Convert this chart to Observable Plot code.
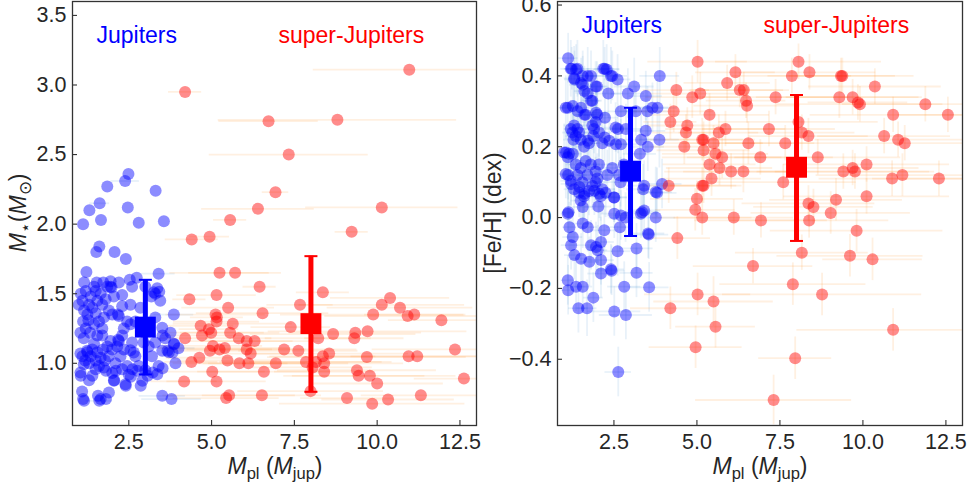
<!DOCTYPE html>
<html><head><meta charset="utf-8">
<script src="https://cdn.jsdelivr.net/npm/d3@7"></script>
<script src="https://cdn.jsdelivr.net/npm/@observablehq/plot@0.6"></script>
<style>
body{margin:0;background:#fff;font-family:"Liberation Sans",Arial,sans-serif;}
#wrap{display:flex;width:969px;height:483px;overflow:hidden;}
.panel{position:relative;height:483px;}
.lab{position:absolute;font-size:23px;line-height:16px;color:#262626;white-space:nowrap;}
.rot{transform:translate(-50%,-50%) rotate(-90deg);}
.hx{transform:translateX(-50%);}
.lab sub{font-size:0.72em;vertical-align:baseline;position:relative;top:0.3em;}
</style></head>
<body>
<div id="wrap">
  <div class="panel" id="left">
    <div class="lab rot" style="left:19px;top:213px;"><i>M</i><sub>⋆</sub>(<i>M</i><sub>⊙</sub>)</div>
    <div class="lab hx" style="left:275px;top:458px;"><i>M</i><sub>pl</sub> (<i>M</i><sub>jup</sub>)</div>
  </div>
  <div class="panel" id="right">
    <div class="lab rot" style="left:9px;top:213px;">[Fe/H] (dex)</div>
    <div class="lab hx" style="left:276px;top:458px;"><i>M</i><sub>pl</sub> (<i>M</i><sub>jup</sub>)</div>
  </div>
</div>
<script>
// ---------- data ----------
const xTicks = [2.5, 5.0, 7.5, 10.0, 12.5];
const mstarTicks = [1.0, 1.5, 2.0, 2.5, 3.0, 3.5];
const fehTicks = [-0.4, -0.2, 0.0, 0.2, 0.4, 0.6];

const groupNames = ["Jupiters", "super-Jupiters"];
const groupColors = ["#0000ff", "#ff0000"];
const meanMpl = [3, 8];
const meanMstar = [1.26, 1.285];
const mstarLow = [0.92, 0.795];
const mstarHigh = [1.60, 1.77];
const meanFeH = [0.131, 0.142];
const fehLow = [-0.052, -0.066];
const fehHigh = [0.31, 0.346];

// Jupiters: [Mpl, Mstar, Mpl error]
const jupMstar = [
[2.49,2.36],[2.39,2.31,0.43],[1.85,2.27],[3.31,2.24],[1.62,2.15,0.3],[1.31,2.10],[2.47,2.12],[1.66,2.03],[1.12,2.00],[2.80,2.01],[3.56,2.02],
[1.61,1.84],[1.52,1.80],[2.07,1.80],[2.41,1.75],
[1.22,1.656],[3.40,1.644,0.5],[2.74,1.615],[2.53,1.60],[1.15,1.58],[1.53,1.58],[1.73,1.58],[1.95,1.59],[2.20,1.58],[1.95,1.55],[1.98,1.545],[1.50,1.52],[2.30,1.49],[3.36,1.54],[3.26,1.51],[3.18,1.48],[3.42,1.515],[3.30,1.50],
[0.99,1.42],[1.05,1.50],[1.10,1.45],[1.15,1.38],[1.20,1.52],[1.25,1.35],[1.30,1.42],[1.35,1.48],[1.40,1.40],[1.45,1.55],[1.50,1.36],[1.55,1.45],[1.60,1.30],[1.65,1.50],[1.70,1.42],[1.80,1.46],[1.85,1.55],[1.90,1.38],[2.00,1.35],[2.05,1.48],[2.17,1.35],[2.20,1.34],[2.30,1.41],[2.55,1.42],[1.12,1.30],[1.20,1.25],[1.28,1.31],[1.33,1.22],[1.45,1.28],[1.55,1.20],[1.70,1.25],[1.75,1.33],
[1.04,1.22],[1.14,1.18],[2.55,1.28],[3.86,1.35,0.6],[3.51,1.256],[3.76,1.22],[3.52,1.20],
[1.95,1.16],[2.20,1.16],[2.18,1.17],[2.30,1.20],[1.70,1.20],[1.45,1.14],[1.24,1.09],[1.04,1.07],[2.55,1.094],[2.65,1.077],[3.51,1.09],[3.71,1.08],[3.86,1.14],[3.91,1.00],[1.14,0.994],[1.75,0.97],[2.00,0.93],[2.30,0.958],[2.50,0.917],[2.76,0.946],[2.91,0.874],[3.36,0.922],[1.40,0.91],[1.04,0.933],[2.05,0.874],[2.40,0.85],[2.86,0.838],
[1.10,1.05],[1.18,1.02],[1.25,1.08],[1.30,1.00],[1.35,1.05],[1.40,1.10],[1.50,1.02],[1.55,1.08],[1.60,0.98],[1.65,1.04],[1.72,1.10],[1.78,1.02],[1.85,1.12],[1.90,1.05],[2.00,1.10],[2.10,1.00],[2.15,1.12],[2.25,1.05],[2.35,1.10],[2.45,0.98],[2.60,1.15],[2.70,1.05],[2.80,0.98],[3.00,0.95],[3.10,1.12],[3.20,1.05],[3.30,1.15],[3.40,0.98],[3.60,1.18],[3.67,1.09],[3.82,1.077],[4.00,1.108,0.5],[3.87,1.137],[3.22,0.933],[3.07,0.91],[2.41,0.838],[3.52,0.965],[2.56,0.903],[2.61,0.958],[2.11,0.946],[1.81,0.946],[1.50,0.958],[1.30,0.879],[2.06,0.879],[1.05,0.91],
[1.09,0.797],[1.12,0.743],[1.57,0.766],[1.65,0.743],[1.90,0.79],[3.51,0.766,0.7],[3.79,0.743,0.9],[1.15,0.73],[1.61,0.73,0.4],[1.81,0.743],
[2.70,1.30],[2.90,1.25],[3.30,1.33],[3.45,1.45],[2.45,1.30],[2.85,1.40],[2.60,1.55],[3.00,1.55],[2.35,1.25],[2.95,1.15]
];

// super-Jupiters: [Mpl, Mstar, Mpl error]
const supMstar = [
[4.20,2.95,0.5],[10.97,3.11,2.9],[6.72,2.74,1.5],[8.80,2.75,3.6],[7.33,2.50,2.4],[6.93,2.23,0.4],[6.40,2.11,1.7],[10.14,2.12,2.3],[5.56,2.03,0.5],[4.40,1.89,0.8],[4.94,1.91,0.6],[9.23,1.945,0.5],[5.24,1.65,1.5],[5.71,1.65,1.4],[6.45,1.55,0.5],[8.36,1.51,0.8],[4.33,1.46,0.5],[5.15,1.49,1.2],[10.39,1.47,1.8],[10.14,1.42,2.5],[7.67,1.42,1.0],[5.50,1.40,1.4],[10.69,1.40,2.2],[5.12,1.35,1.5],[5.16,1.33,0.8],[6.54,1.36,2.0],[9.88,1.35,2.8],[11.12,1.35,1.5],[10.92,1.34,2.5],[11.94,1.31,1.6],[5.15,1.30,1.3],[4.67,1.27,1.0],[5.64,1.285,1.8],[7.39,1.26,1.2],[4.92,1.245,0.9],[4.20,1.18,0.8],[4.71,1.20,1.2],[4.99,1.22,1.6],[5.56,1.22,1.5],[5.82,1.18,1.0],[6.06,1.16,1.4],[6.30,1.16,2.0],[8.67,1.21,2.5],[9.34,1.22,2.0],[9.31,1.18,1.5],[9.71,1.23,3.0],[8.22,1.18,1.6],[5.04,1.125,1.5],[5.40,1.11,2.0],[4.95,1.09,1.2],[5.24,1.10,1.6],[6.06,1.10,1.8],[6.18,1.07,1.3],[7.19,1.10,2.2],[7.62,1.09,1.8],[8.55,1.07,2.4],[8.36,1.05,1.6],[4.63,1.04,1.0],[4.39,1.01,0.8],[5.48,1.02,1.5],[5.84,1.00,2.0],[6.11,1.00,1.2],[6.94,1.00,2.2],[7.85,1.01,2.6],[8.15,1.01,2.0],[8.05,0.97,1.8],[8.40,1.00,2.4],[8.40,0.94,1.5],[9.69,1.045,3.0],[10.95,1.05,2.6],[11.21,1.05,2.0],[12.35,1.10,2.5],[12.62,0.89,1.5],[5.02,0.94,1.6],[6.58,0.94,2.0],[9.39,0.95,2.4],[9.44,0.91,2.0],[9.78,0.91,2.6],[10.0,0.855,2.0],[4.17,0.87,1.0],[5.15,0.87,1.5],[5.44,0.75,1.6],[5.53,0.77,2.0],[6.52,0.77,1.8],[7.99,0.80,2.2],[9.09,0.75,1.4],[9.85,0.71,2.8],[10.33,0.74,2.0],[11.32,0.77,1.8]
];

// Jupiters: [Mpl, [Fe/H], Mpl error, [Fe/H] error]
const jupFeh = [
[1.12,0.45,0.3,0.07],[1.20,0.42,0.3,0.08],[1.23,0.42,0.2,0.06],[1.40,0.42,0.4,0.08],[1.36,0.418,0.3,0.07],[1.30,0.393,0.3,0.09],[1.56,0.40,0.4,0.07],[1.71,0.40,0.3,0.08],[1.81,0.40,0.4,0.07],[2.18,0.42,0.5,0.08],[2.28,0.418,0.4,0.07],[2.22,0.42,0.3,0.06],[2.41,0.40,0.5,0.08],[2.61,0.39,0.4,0.07],[2.45,0.40,0.3,0.07],
[1.31,0.39,0.3,0.08],[1.51,0.38,0.3,0.07],[1.56,0.375,0.4,0.08],[1.95,0.37,0.4,0.07],[1.99,0.37,0.3,0.07],[3.11,0.37,0.6,0.08],[2.33,0.35,0.4,0.07],[2.92,0.35,0.5,0.07],[3.88,0.40,0.6,0.08],[1.61,0.357,0.3,0.07],[1.71,0.35,0.3,0.07],[1.81,0.33,0.3,0.07],[3.46,0.343,0.5,0.07],
[1.11,0.31,0.2,0.08],[1.26,0.315,0.3,0.07],[1.41,0.30,0.3,0.07],[1.51,0.31,0.3,0.07],[1.05,0.31,0.2,0.09],[1.61,0.29,0.3,0.07],[1.96,0.296,0.4,0.07],[2.71,0.30,0.5,0.08],[3.16,0.30,0.5,0.07],[3.51,0.30,0.6,0.07],[3.66,0.31,0.5,0.07],[3.81,0.31,0.6,0.08],[1.65,0.29,0.3,0.06],[2.00,0.29,0.4,0.07],[2.23,0.282,0.4,0.07],[1.85,0.33,0.3,0.07],
[1.20,0.25,0.2,0.08],[1.25,0.24,0.3,0.07],[1.30,0.26,0.3,0.07],[1.35,0.23,0.3,0.08],[1.40,0.25,0.3,0.07],[1.45,0.24,0.3,0.07],[1.28,0.22,0.3,0.07],[1.50,0.22,0.3,0.08],
[1.85,0.26,0.3,0.07],[1.90,0.25,0.3,0.07],[1.95,0.27,0.4,0.07],[1.88,0.23,0.3,0.07],[2.05,0.24,0.4,0.07],[2.15,0.21,0.4,0.07],[1.75,0.21,0.3,0.07],
[2.55,0.254,0.4,0.07],[2.62,0.25,0.4,0.07],[2.86,0.25,0.5,0.07],[3.46,0.245,0.6,0.07],[3.87,0.22,0.6,0.08],[3.32,0.22,0.5,0.07],[3.52,0.20,0.5,0.07],[2.22,0.226,0.4,0.07],[2.36,0.217,0.4,0.07],[2.56,0.207,0.4,0.07],[2.71,0.207,0.5,0.07],[1.71,0.217,0.3,0.07],[1.60,0.20,0.3,0.07],[3.28,0.18,0.5,0.07],
[1.00,0.184,0.2,0.08],[1.06,0.184,0.2,0.07],[1.15,0.18,0.2,0.07],[1.26,0.18,0.3,0.07],[1.11,0.17,0.2,0.07],
[1.35,0.15,0.3,0.07],[1.50,0.14,0.3,0.07],[1.65,0.16,0.3,0.07],[1.80,0.15,0.3,0.07],[1.95,0.13,0.4,0.07],[2.05,0.15,0.4,0.07],[1.40,0.12,0.3,0.07],[1.55,0.10,0.3,0.07],[1.70,0.12,0.3,0.07],[1.85,0.09,0.3,0.07],[2.00,0.11,0.4,0.07],[2.15,0.08,0.4,0.07],[2.30,0.12,0.4,0.07],[2.45,0.14,0.4,0.07],[1.05,0.123,0.2,0.07],[1.12,0.12,0.2,0.07],[1.20,0.104,0.3,0.07],[1.95,0.10,0.3,0.07],[2.25,0.07,0.4,0.07],[2.50,0.057,0.4,0.07],[2.70,0.10,0.5,0.07],[3.38,0.08,0.5,0.07],[3.80,0.07,0.6,0.07],[3.95,0.095,0.6,0.07],[1.30,0.08,0.3,0.07],[1.45,0.07,0.3,0.07],[1.60,0.06,0.3,0.07],[1.75,0.075,0.3,0.07],[2.10,0.06,0.4,0.07],[2.80,0.15,0.5,0.07],[2.65,0.12,0.4,0.07],
[1.21,0.095,0.3,0.07],[1.46,0.086,0.3,0.07],[1.61,0.067,0.3,0.07],[1.91,0.076,0.3,0.07],[2.06,0.067,0.4,0.07],[2.51,0.057,0.4,0.07],[3.41,0.09,0.5,0.07],[3.76,0.072,0.5,0.07],
[3.35,0.015,0.5,0.07],[3.76,0.0,0.6,0.07],[3.55,-0.048,0.6,0.07],[2.85,0.0,0.5,0.07],[2.68,-0.027,0.4,0.07],[2.51,0.011,0.4,0.07],[2.71,0.006,0.4,0.07],[2.03,0.031,0.4,0.07],[1.56,0.03,0.3,0.07],[1.50,0.048,0.3,0.07],[1.11,0.011,0.2,0.08],[1.13,0.015,0.2,0.08],[1.16,-0.027,0.2,0.07],[1.26,-0.055,0.3,0.07],[1.21,-0.078,0.3,0.07],[1.31,-0.106,0.3,0.07],[1.51,-0.116,0.3,0.07],[1.76,-0.125,0.3,0.07],[2.11,-0.12,0.4,0.07],[2.01,-0.092,0.3,0.07],[1.81,-0.078,0.3,0.07],[1.96,-0.083,0.3,0.07],[2.11,-0.069,0.4,0.07],[2.21,-0.036,0.4,0.07],[1.56,-0.017,0.3,0.07],[1.71,-0.027,0.3,0.07],[3.31,0.011,0.5,0.07],[3.41,0.02,0.5,0.07],
[3.18,-0.087,0.5,0.07],[3.18,-0.156,0.5,0.07],[2.61,-0.095,0.4,0.07],[3.53,-0.045,0.5,0.07],[2.41,-0.146,0.4,0.07],[2.43,-0.15,0.4,0.07],[2.11,-0.158,0.4,0.07],
[1.11,-0.177,0.2,0.07],[1.12,-0.205,0.2,0.07],[1.36,-0.195,0.3,0.07],[1.56,-0.195,0.3,0.07],[1.88,-0.226,0.3,0.07],[1.43,-0.256,0.3,0.07],[1.69,-0.256,0.3,0.08],[2.51,-0.265,0.8,0.07],[2.86,-0.275,0.8,0.07],[2.81,-0.195,0.5,0.07],[3.56,-0.197,0.6,0.07],
[2.63,-0.436,0.4,0.07]
];

// super-Jupiters: [Mpl, [Fe/H], Mpl error, [Fe/H] error]
const supFeh = [
[5.02,0.44,1.5,0.06],[8.06,0.44,2.5,0.05],[6.16,0.41,1.2,0.05],[8.39,0.41,2.0,0.05],[7.86,0.40,1.8,0.05],[9.34,0.40,2.2,0.05],[9.38,0.40,1.6,0.05],[4.38,0.36,1.0,0.05],[5.10,0.35,1.5,0.06],[5.91,0.38,1.3,0.05],[6.29,0.36,1.5,0.05],[6.41,0.36,1.2,0.05],[4.86,0.34,1.4,0.06],[7.37,0.34,2.2,0.05],[9.29,0.34,2.5,0.06],[9.69,0.34,2.0,0.05],[9.91,0.32,2.5,0.05],[9.85,0.325,1.5,0.05],[10.36,0.37,2.0,0.05],[11.88,0.32,2.5,0.05],[12.56,0.29,1.5,0.05],[10.91,0.29,2.5,0.05],[6.51,0.316,1.6,0.05],[6.48,0.33,1.2,0.05],[4.30,0.30,1.2,0.06],[4.20,0.27,0.8,0.05],[5.38,0.29,1.8,0.06],[4.71,0.26,1.2,0.05],[4.67,0.24,1.0,0.05],[5.86,0.25,1.8,0.05],[5.66,0.24,1.2,0.05],[7.17,0.25,2.0,0.05],[8.06,0.27,2.4,0.06],[8.16,0.24,1.6,0.05],[8.36,0.23,1.8,0.05],[10.64,0.23,2.0,0.05],[11.06,0.22,2.5,0.05],[11.26,0.21,1.8,0.05],[4.62,0.20,1.0,0.05],[5.16,0.22,1.6,0.06],[5.20,0.22,1.2,0.05],[5.50,0.21,1.5,0.05],[6.55,0.21,2.0,0.06],[7.66,0.21,1.8,0.05],[5.20,0.19,1.4,0.05],[5.56,0.18,1.6,0.05],[5.76,0.17,1.8,0.06],[6.91,0.17,2.2,0.05],[8.64,0.17,2.5,0.05],[5.38,0.15,1.4,0.05],[5.68,0.14,1.6,0.05],[6.03,0.13,2.0,0.05],[6.40,0.13,1.8,0.06],[9.41,0.13,2.6,0.05],[9.69,0.14,2.0,0.05],[9.76,0.13,2.4,0.05],[10.11,0.15,2.5,0.05],[10.88,0.11,2.2,0.05],[11.19,0.12,2.6,0.06],[12.29,0.11,2.0,0.05],[5.44,0.11,1.5,0.05],[5.16,0.09,1.2,0.05],[5.20,0.09,1.0,0.05],[4.15,0.09,0.8,0.05],[7.60,0.10,2.2,0.05],[5.00,0.053,1.4,0.05],[9.19,0.05,2.0,0.06],[10.11,0.06,2.5,0.05],[8.36,0.04,2.0,0.05],[8.51,0.03,1.8,0.05],[4.95,0.022,1.2,0.06],[5.16,0.0,1.5,0.05],[6.11,0.0,1.8,0.05],[9.03,0.013,2.4,0.06],[6.93,-0.008,2.0,0.05],[8.38,-0.008,2.4,0.05],[4.41,-0.058,1.0,0.06],[9.81,-0.037,2.6,0.06],[8.16,-0.099,2.0,0.05],[9.61,-0.108,2.2,0.06],[10.29,-0.118,1.5,0.06],[6.69,-0.137,1.8,0.05],[7.89,-0.188,2.2,0.06],[5.02,-0.217,1.6,0.06],[8.77,-0.217,3.0,0.06],[5.50,-0.237,1.8,0.07],[4.20,-0.256,1.2,0.06],[5.56,-0.308,1.2,0.06],[10.91,-0.317,2.9,0.06],[4.96,-0.366,1.4,0.06],[7.96,-0.397,1.1,0.06],[7.31,-0.515,2.35,0.07]
];

// ---------- drawing ----------
const fmt = d3.format(".1f");
const capSymbol = {draw(ctx, size) { const w = Math.sqrt(size / Math.PI); ctx.moveTo(-w, 0); ctx.lineTo(w, 0); }};

function panel({jup, sup, yDomain, yTicks, mean, low, high, width, marginLeft, marginRight, labelDy}) {
  const marginTop = 1, marginBottom = 58, height = 483;
  const innerH = height - marginTop - marginBottom;
  const innerW = width - marginLeft - marginRight;
  const means = groupNames.map((g, i) => ({g, x: meanMpl[i], m: mean[i], lo: low[i], hi: high[i], c: groupColors[i]}));
  const hasX = d => d[2] != null;
  const hasY = d => d[3] != null;
  return Plot.plot({
    width, height, marginLeft, marginRight, marginTop, marginBottom,
    style: {fontFamily: "Liberation Sans, Arial, sans-serif", fontSize: "21.5px", color: "#262626", background: "white"},
    x: {domain: [0.8, 13.0], ticks: xTicks, tickFormat: fmt, tickSize: 0, tickPadding: 8, label: null},
    y: {domain: yDomain, ticks: yTicks, tickFormat: fmt, tickSize: 0, tickPadding: 6, label: null},
    marks: [
      // error bars
      Plot.ruleY(jup.filter(hasX), {y: d => d[1], x1: d => d[0] - d[2], x2: d => d[0] + d[2], stroke: "#5b9bd5", strokeOpacity: 0.14, strokeWidth: 1.8, clip: true}),
      Plot.ruleX(jup.filter(hasY), {x: d => d[0], y1: d => d[1] - d[3], y2: d => d[1] + d[3], stroke: "#5b9bd5", strokeOpacity: 0.14, strokeWidth: 1.8, clip: true}),
      Plot.ruleY(sup.filter(hasX), {y: d => d[1], x1: d => d[0] - d[2], x2: d => d[0] + d[2], stroke: "#ff9933", strokeOpacity: 0.15, strokeWidth: 1.8, clip: true}),
      Plot.ruleX(sup.filter(hasY), {x: d => d[0], y1: d => d[1] - d[3], y2: d => d[1] + d[3], stroke: "#ff9933", strokeOpacity: 0.15, strokeWidth: 1.8, clip: true}),
      // points
      Plot.dot(jup, {x: d => d[0], y: d => d[1], r: 6, fill: "#0000ff", fillOpacity: 0.45, stroke: "none"}),
      Plot.dot(sup, {x: d => d[0], y: d => d[1], r: 6, fill: "#ff0000", fillOpacity: 0.45, stroke: "none"}),
      // group means with spread
      Plot.ruleX(means, {x: "x", y1: "lo", y2: "hi", stroke: "c", strokeWidth: 5}),
      Plot.dot(means, {x: "x", y: "lo", symbol: capSymbol, r: 6.5, fill: "none", stroke: "c", strokeWidth: 2}),
      Plot.dot(means, {x: "x", y: "hi", symbol: capSymbol, r: 6.5, fill: "none", stroke: "c", strokeWidth: 2}),
      Plot.dot(means, {x: "x", y: "m", symbol: "square", r: 11.8, fill: "c", stroke: "none"}),
      // inward ticks
      Plot.tickX(xTicks, {x: d => d, insetTop: innerH - 5, stroke: "#333", strokeWidth: 1.1}),
      Plot.tickY(yTicks, {y: d => d, insetRight: innerW - 5, stroke: "#333", strokeWidth: 1.1}),
      Plot.frame({stroke: "#333", strokeWidth: 1.3}),
      // group labels
      Plot.text([groupNames[0]], {frameAnchor: "top-left", dx: 24, dy: labelDy, text: d => d, fill: groupColors[0], fontSize: 23, textAnchor: "start", lineAnchor: "top"}),
      Plot.text([groupNames[1]], {frameAnchor: "top-left", dx: 206, dy: labelDy, text: d => d, fill: groupColors[1], fontSize: 23, textAnchor: "start", lineAnchor: "top"})
    ]
  });
}

const left = panel({jup: jupMstar, sup: supMstar, yDomain: [0.553, 3.6], yTicks: mstarTicks, mean: meanMstar, low: mstarLow, high: mstarHigh, width: 484, marginLeft: 72, marginRight: 8, labelDy: 25});
const right = panel({jup: jupFeh, sup: supFeh, yDomain: [-0.587, 0.61], yTicks: fehTicks, mean: meanFeH, low: fehLow, high: fehHigh, width: 485, marginLeft: 73, marginRight: 7, labelDy: 15});
document.getElementById("left").prepend(left);
document.getElementById("right").prepend(right);
</script>
</body></html>
